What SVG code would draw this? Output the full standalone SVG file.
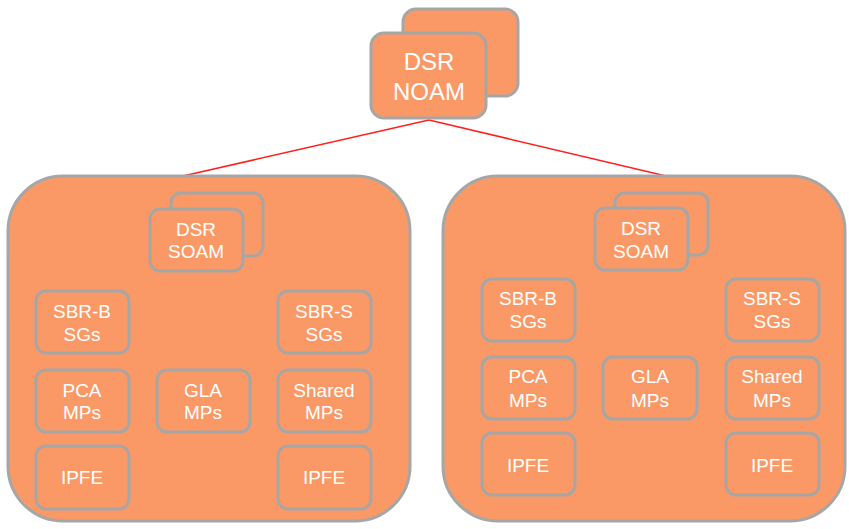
<svg xmlns="http://www.w3.org/2000/svg" width="849" height="529" viewBox="0 0 849 529">
<style>
.box{fill:#FB9966;stroke:#A6A6A6;stroke-width:3}
.t{fill:#fff;font-family:"Liberation Sans",Arial,sans-serif;font-size:19px;text-anchor:middle}
.tb{fill:#fff;font-family:"Liberation Sans",Arial,sans-serif;font-size:24px;text-anchor:middle}
.c{stroke:#FF2020;stroke-width:1.5;fill:none}
</style>
<rect width="849" height="529" fill="#fff"/>
<g id="connectors">
<line class="c" x1="429" y1="120" x2="183" y2="176"/>
<line class="c" x1="429" y1="120" x2="666" y2="176"/>
</g>
<g id="noam">
<rect class="box" x="403" y="9" width="115" height="87" rx="13"/>
<rect class="box" x="371" y="33" width="115" height="85" rx="13"/>
<text class="tb" x="429" y="70">DSR</text>
<text class="tb" x="429" y="100">NOAM</text>
</g>
<g id="site1">
<rect class="box" x="8" y="176" width="402" height="345" rx="55"/>
</g>
<g id="soam1">
<rect class="box" x="171" y="193" width="92" height="63" rx="10"/>
<rect class="box" x="150" y="209" width="93" height="62" rx="10"/>
<text class="t" x="196" y="236">DSR</text>
<text class="t" x="196" y="258">SOAM</text>
</g>
<g id="sbrb1"><rect class="box" x="36" y="291" width="93" height="62" rx="10"/><text class="t" x="82" y="318">SBR-B</text><text class="t" x="82" y="341">SGs</text></g>
<g id="sbrs1"><rect class="box" x="278" y="291" width="93" height="62" rx="10"/><text class="t" x="324" y="318">SBR-S</text><text class="t" x="324" y="341">SGs</text></g>
<g id="pca1"><rect class="box" x="36" y="370" width="93" height="62" rx="10"/><text class="t" x="82" y="397">PCA</text><text class="t" x="82" y="419">MPs</text></g>
<g id="gla1"><rect class="box" x="157" y="370" width="93" height="62" rx="10"/><text class="t" x="203" y="397">GLA</text><text class="t" x="203" y="419">MPs</text></g>
<g id="shared1"><rect class="box" x="278" y="370" width="93" height="62" rx="10"/><text class="t" x="324" y="397">Shared</text><text class="t" x="324" y="419">MPs</text></g>
<g id="ipfe1a"><rect class="box" x="36" y="446" width="93" height="63" rx="10"/><text class="t" x="82" y="484">IPFE</text></g>
<g id="ipfe1b"><rect class="box" x="278" y="446" width="93" height="63" rx="10"/><text class="t" x="324" y="484">IPFE</text></g>
<g id="site2">
<rect class="box" x="443" y="176" width="402" height="345" rx="55"/>
</g>
<g id="soam2">
<rect class="box" x="615" y="193" width="93" height="62" rx="10"/>
<rect class="box" x="595" y="208" width="93" height="62" rx="10"/>
<text class="t" x="641" y="235">DSR</text>
<text class="t" x="641" y="258">SOAM</text>
</g>
<g id="sbrb2"><rect class="box" x="482" y="279" width="93" height="62" rx="10"/><text class="t" x="528" y="305">SBR-B</text><text class="t" x="528" y="328">SGs</text></g>
<g id="sbrs2"><rect class="box" x="726" y="279" width="93" height="62" rx="10"/><text class="t" x="772" y="305">SBR-S</text><text class="t" x="772" y="328">SGs</text></g>
<g id="pca2"><rect class="box" x="482" y="357" width="93" height="62" rx="10"/><text class="t" x="528" y="383">PCA</text><text class="t" x="528" y="407">MPs</text></g>
<g id="gla2"><rect class="box" x="603" y="357" width="94" height="62" rx="10"/><text class="t" x="650" y="383">GLA</text><text class="t" x="650" y="407">MPs</text></g>
<g id="shared2"><rect class="box" x="726" y="357" width="93" height="62" rx="10"/><text class="t" x="772" y="383">Shared</text><text class="t" x="772" y="407">MPs</text></g>
<g id="ipfe2a"><rect class="box" x="482" y="433" width="93" height="62" rx="10"/><text class="t" x="528" y="472">IPFE</text></g>
<g id="ipfe2b"><rect class="box" x="726" y="433" width="93" height="62" rx="10"/><text class="t" x="772" y="472">IPFE</text></g>
</svg>
